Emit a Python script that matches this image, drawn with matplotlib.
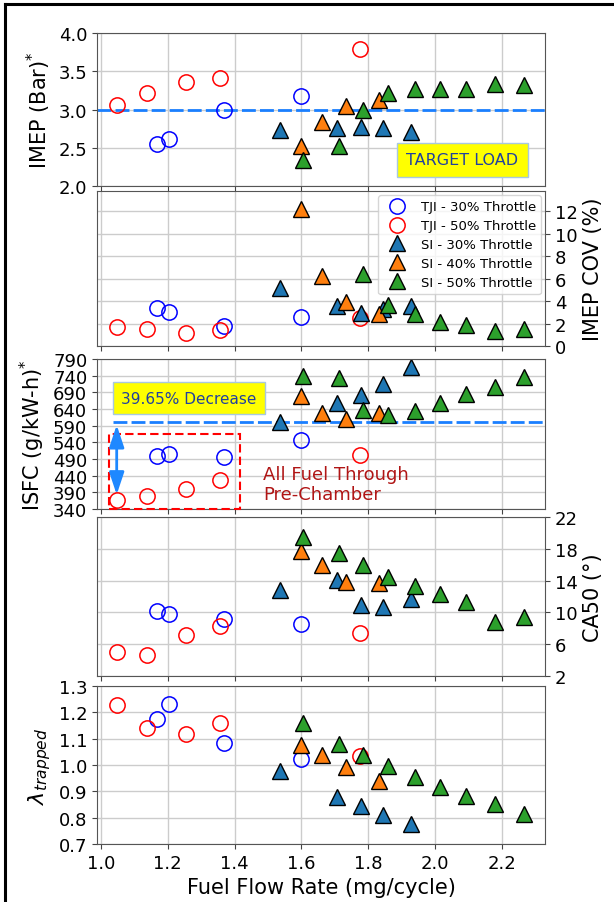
import numpy as np
import matplotlib.pyplot as plt
from matplotlib.patches import Rectangle
from matplotlib.lines import Line2D

# fuel flow rate (mg/cycle) per series
tji30_x = [1.167, 1.205, 1.367, 1.598]
tji50_x = [1.048, 1.138, 1.256, 1.357, 1.775]
si30_x = [1.535, 1.706, 1.778, 1.845, 1.930]
si40_x = [1.600, 1.662, 1.733, 1.832]
si50_x = [1.604, 1.714, 1.785, 1.860, 1.942, 2.015, 2.092, 2.180, 2.267]

# IMEP (bar)
imep_tji30 = [2.55, 2.61, 3.00, 3.18]
imep_tji50 = [3.06, 3.22, 3.355, 3.41, 3.785]
imep_si30 = [2.73, 2.76, 2.77, 2.76, 2.70]
imep_si40 = [2.52, 2.84, 3.045, 3.12]
imep_si50 = [2.335, 2.52, 3.0, 3.22, 3.27, 3.27, 3.27, 3.33, 3.32]

# IMEP COV (%)
cov_tji30 = [3.39, 3.01, 1.80, 2.61]
cov_tji50 = [1.65, 1.51, 1.16, 1.45, 2.52]
cov_si30 = [5.13, 3.54, 2.90, 3.30, 3.54]
cov_si40 = [12.23, 6.23, 3.91, 2.81]
cov_si50 = [np.nan, np.nan, 6.43, 3.62, 2.81, 2.17, 1.86, 1.36, 1.51]

# ISFC (g/kW-h)
isfc_tji30 = [498, 505, 495, 546]
isfc_tji50 = [366, 378, 401, 426, 503]
isfc_si30 = [601, 658, 683, 715, 765]
isfc_si40 = [678, 628, 611, 628]
isfc_si50 = [738, 733, 638, 623, 633, 658, 685, 705, 735]

# CA50 (deg)
ca50_tji30 = [10.23, 9.8, 9.23, 8.58]
ca50_tji50 = [5.03, 4.68, 7.15, 8.28, 7.41]
ca50_si30 = [12.78, 14.12, 10.96, 10.74, 11.74]
ca50_si40 = [17.67, 15.94, 13.86, 13.69]
ca50_si50 = [19.49, 17.45, 15.94, 14.51, 13.26, 12.35, 11.31, 8.80, 9.36]

# lambda trapped
lam_tji30 = [1.176, 1.232, 1.085, 1.021]
lam_tji50 = [1.228, 1.140, 1.118, 1.161, 1.034]
lam_si30 = [0.977, 0.879, 0.843, 0.812, 0.776]
lam_si40 = [1.077, 1.038, 0.993, 0.941]
lam_si50 = [1.158, 1.081, 1.038, 0.995, 0.954, 0.918, 0.883, 0.851, 0.815]

labels = ['TJI - 30% Throttle', 'TJI - 50% Throttle', 'SI - 30% Throttle',
          'SI - 40% Throttle', 'SI - 50% Throttle']
target_imep = 2.99
isfc_ref = 600

xs = [tji30_x, tji50_x, si30_x, si40_x, si50_x]
colors = ['blue', 'red', '#1f77b4', '#ff7f0e', '#2ca02c']
markers = ['o', 'o', '^', '^', '^']


def draw(ax, ys):
    for x, y, c, m, lab in zip(xs, ys, colors, markers, labels):
        if m == 'o':
            ax.plot(x, y, 'o', ms=11, mfc='none', mec=c, mew=1.1, ls='none', label=lab)
        else:
            ax.plot(x, y, '^', ms=11, mfc=c, mec='black', mew=1.0, ls='none', label=lab)


W, H = 614, 903
fig = plt.figure(figsize=(W / 100, H / 100), dpi=100)
# panel top/bottom edges in pixels
panel_px = [(34, 187), (192, 347), (360, 510), (518, 677), (687, 845)]
axes = []
for top, bot in panel_px:
    rect = [97 / W, 1 - bot / H, (545 - 97) / W, (bot - top) / H]
    if axes:
        axes.append(fig.add_axes(rect, sharex=axes[0]))
    else:
        axes.append(fig.add_axes(rect))

for ax in axes:
    ax.grid(True, color='#cccccc', lw=1)
    ax.set_axisbelow(True)
    ax.tick_params(labelsize=13, color='#444444')
    for s in ax.spines.values():
        s.set_color('#555555')
    ax.set_xlim(0.988, 2.33)
    ax.set_xticks(np.arange(1.0, 2.21, 0.2))
for ax in axes[:-1]:
    ax.tick_params(labelbottom=False)

# IMEP
ax = axes[0]
ax.axhline(target_imep, color='#1a7fff', lw=2, ls=(0, (5, 1.5)), zorder=1.5)
draw(ax, [imep_tji30, imep_tji50, imep_si30, imep_si40, imep_si50])
ax.set_ylim(2.0, 4.0)
ax.set_yticks(np.arange(2.0, 4.01, 0.5))
ax.set_ylabel('IMEP (Bar)$^{*}$', fontsize=15)
ax.text(2.083, 2.34, 'TARGET LOAD', fontsize=11.5, color='#2040a0', ha='center', va='center',
        bbox=dict(boxstyle='square,pad=0.6', fc='yellow', ec='#a8c8e0', lw=1))

# IMEP COV
ax = axes[1]
draw(ax, [cov_tji30, cov_tji50, cov_si30, cov_si40, cov_si50])
ax.set_ylim(0, 13.8)
ax.set_yticks(np.arange(0, 13, 2))
ax.yaxis.tick_right()
ax.yaxis.set_label_position('right')
ax.set_ylabel('IMEP COV (%)', fontsize=15)
ax.legend(loc='upper right', fontsize=9.5, borderaxespad=0.3, handletextpad=0.8, labelspacing=0.45)

# ISFC
ax = axes[2]
ax.hlines(isfc_ref, 1.035, 2.33, color='#1a7fff', lw=2, ls=(0, (5, 1.5)), zorder=1.5)
draw(ax, [isfc_tji30, isfc_tji50, isfc_si30, isfc_si40, isfc_si50])
ax.set_ylim(340, 790)
ax.set_yticks(np.arange(340, 791, 50))
ax.set_ylabel('ISFC (g/kW-h)$^{*}$', fontsize=15)
ax.add_patch(Rectangle((1.024, 341), 0.391, 225, fill=False, ec='red', lw=1.5,
                       ls=(0, (4, 2)), clip_on=False, zorder=3))
ax.annotate('', xy=(1.047, 383), xytext=(1.047, 592),
            arrowprops=dict(arrowstyle='<|-|>,head_length=0.9,head_width=0.3', color='#1e88ff',
                            lw=2, mutation_scale=15, shrinkA=0, shrinkB=0))
ax.text(1.485, 415, 'All Fuel Through\nPre-Chamber', fontsize=13, color='#b01515', ha='left', va='center')
ax.text(1.263, 673, '39.65% Decrease', fontsize=11, color='#2040a0', ha='center', va='center',
        bbox=dict(boxstyle='square,pad=0.55', fc='yellow', ec='#a8c8e0', lw=1))

# CA50
ax = axes[3]
draw(ax, [ca50_tji30, ca50_tji50, ca50_si30, ca50_si40, ca50_si50])
ax.set_ylim(2, 22)
ax.set_yticks(np.arange(2, 23, 4))
ax.yaxis.tick_right()
ax.yaxis.set_label_position('right')
ax.set_ylabel('CA50 (°)', fontsize=15)

# lambda
ax = axes[4]
draw(ax, [lam_tji30, lam_tji50, lam_si30, lam_si40, lam_si50])
ax.set_ylim(0.7, 1.3)
ax.set_yticks(np.arange(0.7, 1.31, 0.1))
ax.set_ylabel('$\\lambda_{trapped}$', fontsize=16)
ax.set_xlabel('Fuel Flow Rate (mg/cycle)', fontsize=15)

# figure frame (left and top edges)
fig.add_artist(Line2D([0.008, 0.008], [0, 0.9945], transform=fig.transFigure, color='black', lw=2.2))
fig.add_artist(Line2D([0.008, 1.0], [0.9945, 0.9945], transform=fig.transFigure, color='black', lw=2.2))

fig.savefig('out.png', dpi=100)
